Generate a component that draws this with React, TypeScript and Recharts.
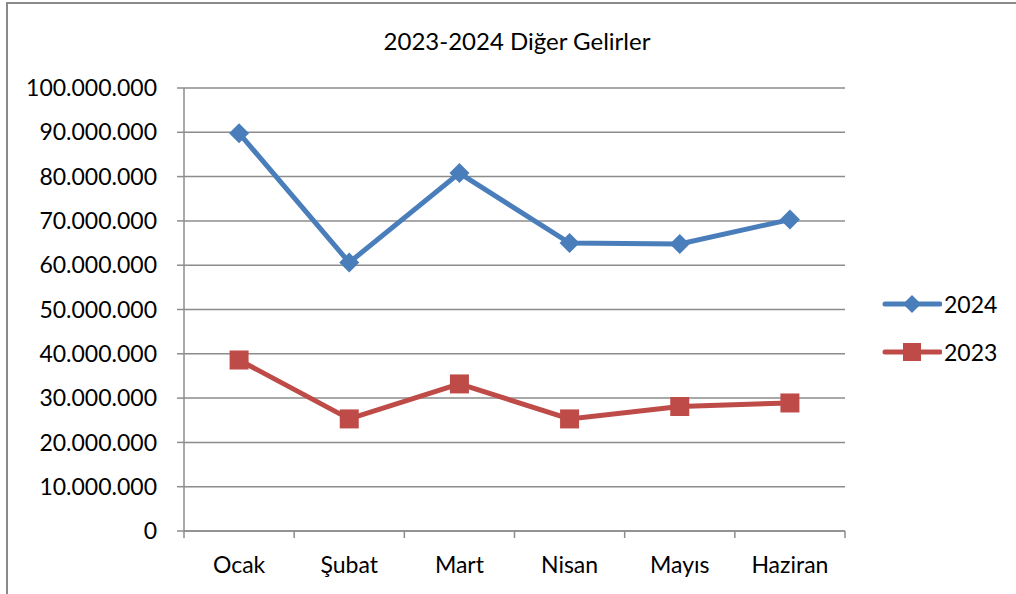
import { CartesianGrid, Legend, Line, LineChart, XAxis, YAxis } from 'recharts';

const months = ['Ocak', 'Şubat', 'Mart', 'Nisan', 'Mayıs', 'Haziran'];
const gelir2024 = [89800000, 60600000, 80800000, 65000000, 64800000, 70300000];
const gelir2023 = [38600000, 25300000, 33200000, 25300000, 28100000, 28900000];
const yTicks = [0, 10000000, 20000000, 30000000, 40000000, 50000000, 60000000, 70000000, 80000000, 90000000, 100000000];

const data = months.map((m, i) => ({ name: m, y2024: gelir2024[i], y2023: gelir2023[i] }));

const BLUE = '#4a7ebb';
const RED = '#be4b48';
const GRID = '#8c8c8c';
const FONT = 'Lato, "Open Sans", sans-serif';

const W = 1016;
const H = 594;
const MARGIN = { top: 88, right: 171, bottom: 62, left: 0 };
const Y_W = 184;
const BAND = (W - MARGIN.left - MARGIN.right - Y_W) / months.length;

const fmtDots = (v: number) => String(v).replace(/\B(?=(\d{3})+(?!\d))/g, '.');

const Diamond = (props: any) => {
  const { cx, cy } = props;
  if (cx == null || cy == null) return null;
  return <polygon points={`${cx},${cy - 10} ${cx + 10},${cy} ${cx},${cy + 10} ${cx - 10},${cy}`} fill={BLUE} />;
};

const Square = (props: any) => {
  const { cx, cy } = props;
  if (cx == null || cy == null) return null;
  return <rect x={cx - 9.5} y={cy - 9.5} width={19} height={19} fill={RED} />;
};

// category label plus Excel-style tick marks between categories
const MonthTick = (props: any) => {
  const { x, y, payload, index } = props;
  const top = y - 26;
  return (
    <g>
      <line x1={x - BAND / 2} y1={top} x2={x - BAND / 2} y2={top + 7} stroke={GRID} strokeWidth={1.5} />
      {index === months.length - 1 && (
        <line x1={x + BAND / 2} y1={top} x2={x + BAND / 2} y2={top + 7} stroke={GRID} strokeWidth={1.5} />
      )}
      <text x={x} y={y} dy="0.71em" textAnchor="middle" fill="#000" fontSize={23} fontFamily={FONT}>
        {payload.value}
      </text>
    </g>
  );
};

const LegendContent = () => (
  <div style={{ fontFamily: FONT, fontSize: 23, color: '#000' }}>
    {[
      { label: '2024', color: BLUE, shape: 'd' },
      { label: '2023', color: RED, shape: 's' },
    ].map((it, i) => (
      <div key={it.label} style={{ display: 'flex', alignItems: 'center', height: 30, marginTop: i ? 18 : 0 }}>
        <svg width={60} height={30}>
          <line x1={3} y1={15} x2={58} y2={15} stroke={it.color} strokeWidth={5} strokeLinecap="round" />
          {it.shape === 'd' ? (
            <polygon points="30,6 39,15 30,24 21,15" fill={it.color} />
          ) : (
            <rect x={21} y={6} width={18} height={18} fill={it.color} />
          )}
        </svg>
        <span style={{ marginLeft: 2 }}>{it.label}</span>
      </div>
    ))}
  </div>
);

export default function App() {
  return (
    <div
      style={{
        position: 'fixed',
        left: 0,
        top: 0,
        width: W,
        height: H,
        overflow: 'hidden',
        background: '#fff',
        fontFamily: FONT,
      }}
    >
      <div
        style={{
          position: 'absolute',
          left: 6,
          top: 2,
          width: 1100,
          height: 700,
          border: '2px solid #8a8a8a',
        }}
      />
      <div
        style={{
          position: 'absolute',
          left: 0,
          top: 26,
          width: 1034,
          textAlign: 'center',
          fontSize: 24,
          color: '#000',
        }}
      >
        2023-2024 Diğer Gelirler
      </div>
      <div style={{ position: 'absolute', left: 0, top: 0 }}>
        <LineChart width={W} height={H} data={data} margin={MARGIN}>
          <CartesianGrid vertical={false} stroke={GRID} strokeWidth={1.5} />
          <XAxis
            dataKey="name"
            scale="band"
            height={1}
            stroke={GRID}
            strokeWidth={1.5}
            tickLine={false}
            tickSize={0}
            tickMargin={26}
            tick={<MonthTick />}
            interval={0}
          />
          <YAxis
            width={Y_W}
            domain={[0, 100000000]}
            ticks={yTicks}
            interval={0}
            tickFormatter={fmtDots}
            tickSize={7}
            tickMargin={20}
            stroke={GRID}
            strokeWidth={1.5}
            tick={{ fill: '#000', fontSize: 23, fontFamily: FONT }}
          />
          <Legend
            layout="vertical"
            align="center"
            verticalAlign="middle"
            content={<LegendContent />}
            wrapperStyle={{ left: 882, top: 289, width: 130 }}
          />
          <Line
            dataKey="y2024"
            name="2024"
            stroke={BLUE}
            strokeWidth={5}
            dot={<Diamond />}
            activeDot={false}
            isAnimationActive={false}
          />
          <Line
            dataKey="y2023"
            name="2023"
            stroke={RED}
            strokeWidth={5}
            dot={<Square />}
            activeDot={false}
            isAnimationActive={false}
          />
        </LineChart>
      </div>
    </div>
  );
}
